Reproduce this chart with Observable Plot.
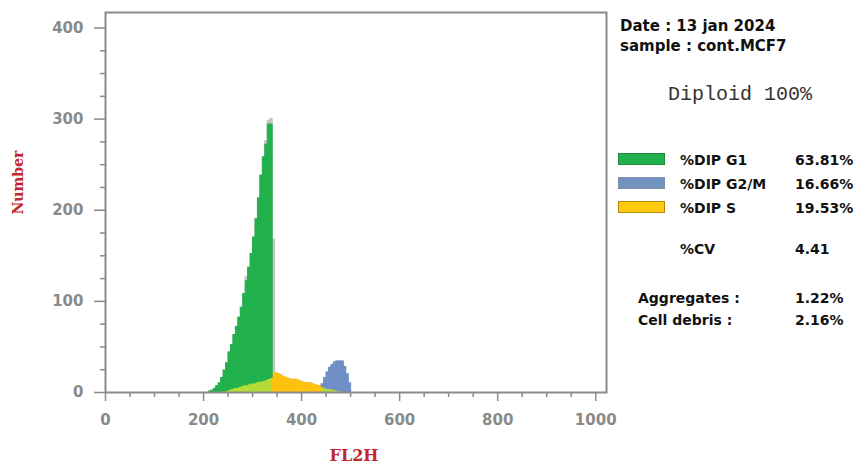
<!DOCTYPE html>
<html><head><meta charset="utf-8">
<script src="https://cdn.jsdelivr.net/npm/d3@7"></script>
<script src="https://cdn.jsdelivr.net/npm/@observablehq/plot@0.6"></script>
<style>
body{margin:0;background:#fff;}
#wrap{position:relative;width:865px;height:469px;overflow:hidden;}
#wrap svg{position:absolute;left:0;top:0;}
.t{position:absolute;white-space:nowrap;line-height:1;color:#111;font-family:"DejaVu Sans",sans-serif;font-weight:bold;}
.sw{position:absolute;width:45px;height:10px;border:1px solid;}
</style></head><body><div id="wrap"></div>
<script>
// FL2H channel bins (start of each bin), bin width
const binStart = [211,216,221,226,231,236,241,246,251,256,261,266,271,276,281,286,291,296,301,306,311,316,321,326,331,336,341,346,351,356,361,366,371,376,381,386,391,396,401,406,411,416,421,426,431,436,441,446,451,456,461,466,471,476,481,486,491,496];
const binWidth = 5;
// raw histogram counts (grey)
const dataCounts = [1,2,4,7,10,16,24,32,44,52,63,72,82,93,108,127,137,152,170,190,213,238,258,276,298,300,168,21,20,19,17,16,15,14,14,14,13,12,11,10,10,10,9,8,7,7,9,16,22,27,30,33,34,34,34,28,20,10];
// model components
const g1Fit = [1,2,4,7,10,16,23,30,41,48,58,67,76,86,100,114,128,142,160,179,201,226,245,258,279,278,0,0,0,0,0,0,0,0,0,0,0,0,0,0,0,0,0,0,0,0,0,0,0,0,0,0,0,0,0,0,0,0];
const sFit  = [0,0,0,0,0,0,1,2,3,4,5,5,6,7,8,8,9,10,10,11,12,12,13,14,15,16,21,21,20,19,17,16,15,14,14,14,13,12,11,10,10,10,9,8,7,7,6,5,4,4,3,3,2,1,1,0,0,0];
const g2Fit = [0,0,0,0,0,0,0,0,0,0,0,0,0,0,0,0,0,0,0,0,0,0,0,0,0,0,0,0,0,0,0,0,0,0,0,0,0,0,0,0,0,0,0,0,0,0,3,11,18,23,27,30,32,33,33,28,20,10];

const xTicks = [0,200,400,600,800,1000];
const xMinor = [50,100,150,250,300,350,450,500,550,650,700,750,850,900,950];
const yTicks = [0,100,200,300,400];
const yMinor = [25,50,75,125,150,175,225,250,275,325,350,375];

const legendLabels = ["%DIP G1","%DIP G2/M","%DIP S"];
const legendValues = ["63.81%","16.66%","19.53%"];
const cvLabel = "%CV", cvValue = "4.41";
const extraLabels = ["Aggregates :","Cell debris :"];
const extraValues = ["1.22%","2.16%"];
const dateText = "Date : 13 jan 2024";
const sampleText = "sample : cont.MCF7";
const ploidyText = "Diploid 100%";

const cGreen = "#22b14c", cBlue = "#6f8fc6", cYellow = "#ffc20e", cLight = "#b4dc38", cGrey = "#c4c4c4";

const rows = binStart.map((b,i) => ({x1:b, x2:b+binWidth, data:dataCounts[i], g1:g1Fit[i], s:sFit[i], g2:g2Fit[i]}));

const barStyle = c => ({fill:c, stroke:c, strokeWidth:1, inset:0});
const axisFont = {fontFamily:"DejaVu Sans", fontWeight:"bold", fontSize:15};
const chart = Plot.plot({
  width:865, height:469,
  marginLeft:105, marginRight:259, marginTop:12, marginBottom:77,
  x:{domain:[0,1022]},
  y:{domain:[0,417]},
  style:{background:"transparent", overflow:"visible"},
  marks:[
    Plot.rect(rows, {x1:"x1", x2:"x2", y1:0, y2:"data", ...barStyle(cGrey), filter:d=>d.data>0}),
    Plot.rect(rows, {x1:"x1", x2:"x2", y1:0, y2:"s", ...barStyle(cLight), filter:d=>d.s>0 && (d.g1>0||d.g2>0)}),
    Plot.rect(rows, {x1:"x1", x2:"x2", y1:0, y2:"s", ...barStyle(cYellow), filter:d=>d.s>0 && !(d.g1>0||d.g2>0)}),
    Plot.rect(rows, {x1:"x1", x2:"x2", y1:"s", y2:d=>d.s+d.g1, ...barStyle(cGreen), filter:d=>d.g1>0}),
    Plot.rect(rows, {x1:"x1", x2:"x2", y1:"s", y2:d=>d.s+d.g2, ...barStyle(cBlue), filter:d=>d.g2>0}),
    Plot.axisY(yTicks, {tickSize:11, tickPadding:11, color:"#8a8a8a", strokeWidth:1.5, label:null, tickFormat:"d", ...axisFont}),
    Plot.axisY(yMinor, {tickSize:5, text:null, color:"#8a8a8a", strokeWidth:1.5, label:null}),
    Plot.axisX(xTicks, {tickSize:9, tickPadding:13, color:"#8a8a8a", strokeWidth:1.5, label:null, tickFormat:"d", ...axisFont}),
    Plot.axisX(xMinor, {tickSize:5, text:null, color:"#8a8a8a", strokeWidth:1.5, label:null}),
    Plot.frame({stroke:"#8a8a8a", strokeWidth:2}),
    Plot.text(["Number"], {text:d=>d, frameAnchor:"left", textAnchor:"middle", lineAnchor:"middle", dx:-87, dy:-20, rotate:-90, fill:"#c4262e", fontFamily:"DejaVu Serif", fontWeight:"bold", fontSize:14}),
    Plot.text(["FL2H"], {text:d=>d, frameAnchor:"bottom", textAnchor:"middle", lineAnchor:"middle", dx:-2, dy:63, fill:"#c4262e", fontFamily:"DejaVu Serif", fontWeight:"bold", fontSize:16})
  ]
});
const wrap = document.getElementById("wrap");
wrap.appendChild(chart);

function addText(txt, left, top, size, extra){
  const d = document.createElement("div");
  d.className = "t"; d.textContent = txt;
  d.style.left = left+"px"; d.style.top = top+"px"; d.style.fontSize = size+"px";
  if (extra) Object.assign(d.style, extra);
  wrap.appendChild(d);
}
function addSwatch(top, fill, border){
  const d = document.createElement("div");
  d.className = "sw"; d.style.left = "618px"; d.style.top = top+"px";
  d.style.background = fill; d.style.borderColor = border;
  wrap.appendChild(d);
}
addText(dateText, 620, 19, 15);
addText(sampleText, 620, 39, 15);
addText(ploidyText, 668, 85, 20, {fontFamily:"Liberation Mono, monospace", fontWeight:"normal", color:"#333"});
const swFill = [cGreen, "#7092be", "#ffc90e"], swBorder = ["#1b8a3c","#8090a8","#b08a10"];
legendLabels.forEach((l,i) => {
  addSwatch(153 + i*24, swFill[i], swBorder[i]);
  addText(l, 680, 153 + i*24, 14);
  addText(legendValues[i], 795, 153 + i*24, 14);
});
addText(cvLabel, 680, 242, 14);
addText(cvValue, 795, 242, 14);
extraLabels.forEach((l,i) => {
  addText(l, 638, 291 + i*22, 14);
  addText(extraValues[i], 795, 291 + i*22, 14);
});
</script></body></html>
